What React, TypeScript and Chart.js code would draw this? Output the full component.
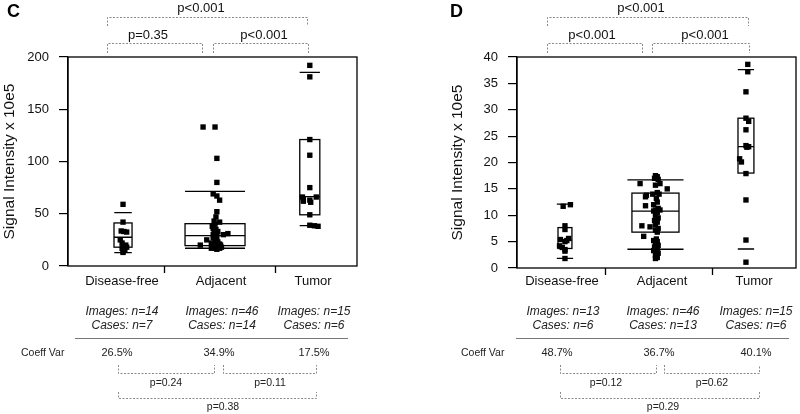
import React, { useEffect, useRef } from "react";
import { Chart, registerables } from "chart.js";
Chart.register(...registerables);

const FONT = "'Liberation Sans', Arial, Helvetica, sans-serif";

const categories = ["Disease-free", "Adjacent", "Tumor"];
const yTitle = "Signal Intensity x 10e5";

// ---------- Panel C ----------
const cDiseaseFree = [59, 42, 33.5, 33, 32.5, 25, 22, 20, 19, 18, 17, 16, 14, 13];
const cDiseaseFreeJitter = [0, 0, -0.02, 0.01, 0.04, -0.03, -0.01, 0.03, 0, 0.04, -0.01, 0.02, 0, 0];
const cAdjacent = [133, 133, 103, 80, 69, 67, 63, 52, 47, 43, 42, 40, 38, 36, 35, 34, 33, 32, 31, 31, 30, 30, 29, 28, 27, 26, 25, 24, 23, 22, 22, 21, 21, 20, 20, 20, 19, 19, 19, 18, 18, 18, 17, 17, 17, 16];
const cAdjacentJitter = [
  -0.13, 0, 0.02, 0.02, -0.02, 0.02, 0.05, 0.02, 0.01, -0.01,
  0.05, 0, -0.03, -0.02, 0.01, 0, 0.03, -0.01, 0.14, 0.02,
  0.09, -0.02, 0, 0.01, -0.02, 0.02, -0.09, 0, 0.03, -0.04,
  0.01, 0.05, -0.01, -0.16, 0.02, 0.06, 0, 0.04, -0.03, 0.07,
  -0.02, 0.03, 0, 0.05, -0.04, 0.02,
];
const cTumor = [192, 181, 121, 106, 75, 66, 66, 64, 63, 62, 61, 49, 39, 38.5, 38];
const cTumorJitter = [0, 0, 0, 0, 0, -0.08, 0.07, -0.07, 0, -0.07, 0.01, 0, 0, 0.05, 0.09];

const cQ1 = [18, 19.5, 49];
const cMedian = [27.5, 29, 66.4];
const cQ3 = [41.2, 40.5, 121];
const cWhiskerLow = [12.8, 17, 38.6];
const cWhiskerHigh = [51, 71.5, 185.3];

const cImages = [14, 46, 15];
const cCases = [7, 14, 6];
const cCoeffVar = ["26.5%", "34.9%", "17.5%"];
const cCoeffP = ["p=0.24", "p=0.11", "p=0.38"];
const cGroupP = ["p<0.001", "p=0.35", "p<0.001"];
const cYTicks = { max: 200, step: 50 };

// ---------- Panel D ----------
const dDiseaseFree = [12.0, 11.7, 8.0, 7.3, 5.6, 5.4, 5.2, 5.0, 4.2, 3.9, 3.5, 3.2, 1.8];
const dDiseaseFreeJitter = [0.06, -0.02, 0, 0, 0.04, -0.05, 0.02, 0, -0.06, -0.03, 0, 0, 0];
const dAdjacent = [17.5, 17.3, 17.0, 16.8, 16.0, 16.0, 15.7, 15.0, 14.3, 14.0, 14.0, 13.8, 13.5, 13.2, 12.5, 12.0, 11.8, 11.3, 11.0, 11.0, 10.8, 10.5, 10.0, 9.5, 9.0, 8.7, 8.2, 8.0, 7.8, 7.5, 7.2, 6.8, 6.0, 5.5, 5.2, 5.0, 4.7, 4.3, 4.0, 3.6, 3.3, 3.0, 2.8, 2.4, 2.0, 1.8];
const dAdjacentJitter = [
  0, 0.02, -0.01, 0.03, -0.17, 0.05, 0, 0.13, 0.02, -0.03,
  0.04, -0.1, -0.11, 0.01, 0.02, -0.02, -0.11, 0.03, 0, 0.05,
  -0.02, 0.02, 0, 0.03, -0.01, 0.02, 0, -0.15, -0.06, 0.03,
  0, 0.02, -0.13, 0.01, -0.02, 0.02, 0, 0.03, -0.01, 0.02,
  -0.02, 0.01, 0.03, 0, 0.02, 0,
];
const dTumor = [38.6, 37.2, 33.4, 28.4, 27.8, 26.2, 23.2, 23.0, 22.9, 20.7, 20.1, 17.9, 12.9, 5.3, 1.1];
const dTumorJitter = [0.02, 0.02, 0, 0, 0.03, 0, 0, 0.03, 0.01, -0.07, -0.05, 0, 0, 0, 0];

const dQ1 = [3.7, 6.8, 18.0];
const dMedian = [5.3, 10.8, 23.0];
const dQ3 = [7.66, 14.2, 28.4];
const dWhiskerLow = [1.84, 3.55, 3.6];
const dWhiskerHigh = [12.1, 16.7, 37.6];

const dImages = [13, 46, 15];
const dCases = [6, 13, 6];
const dCoeffVar = ["48.7%", "36.7%", "40.1%"];
const dCoeffP = ["p=0.12", "p=0.62", "p=0.29"];
const dGroupP = ["p<0.001", "p<0.001", "p<0.001"];
const dYTicks = { max: 40, step: 5 };

type Layout = {
  letter: string; letterX: number;
  padLeft: number; yWidth: number; padRight: number; bottom: number;
  xMin: number; xMax: number; groupX: number[]; boundaries: number[];
  boxHalf: number[]; stapleHalf: number[];
  catX: number[]; tableX: number[]; coeffX: number[]; coeffLabelX: number; tableLine: number[];
  top: { wide: number[]; wideLabel: number; left: number[]; leftLabel: number; right: number[]; rightLabel: number };
  bot: { left: number[]; leftLabel: number; right: number[]; rightLabel: number; wide: number[]; wideLabel: number };
};

const cLayout: Layout = {
  letter: "C", letterX: 7,
  padLeft: 0, yWidth: 68, padRight: 43, bottom: 266,
  xMin: 0.402, xMax: 3.543, groupX: [1, 2, 3.03], boundaries: [1.45, 2.65],
  boxHalf: [0.098, 0.326, 0.109], stapleHalf: [0.095, 0.326, 0.11],
  catX: [122, 221, 313], tableX: [122, 222, 314], coeffX: [117, 219, 314], coeffLabelX: 21, tableLine: [75, 348],
  top: { wide: [107, 307], wideLabel: 201, left: [107, 202], leftLabel: 148, right: [213, 308], rightLabel: 264 },
  bot: { left: [118, 214], leftLabel: 166, right: [223, 316], rightLabel: 270, wide: [118, 316], wideLabel: 223 },
};

const dLayout: Layout = {
  letter: "D", letterX: 50,
  padLeft: 48, yWidth: 69, padRight: 4, bottom: 268,
  xMin: 0.47, xMax: 3.553, groupX: [1, 2, 3], boundaries: [1.442, 2.625],
  boxHalf: [0.077, 0.26, 0.088], stapleHalf: [0.09, 0.31, 0.09],
  catX: [162, 262, 354], tableX: [163, 263, 356], coeffX: [157, 259, 356], coeffLabelX: 61, tableLine: [116, 389],
  top: { wide: [147, 348], wideLabel: 241, left: [147, 242], leftLabel: 192, right: [252, 349], rightLabel: 305 },
  bot: { left: [160, 256], leftLabel: 206, right: [264, 359], rightLabel: 312, wide: [160, 359], wideLabel: 263 },
};

type Stats = {
  values: number[][]; jitter: number[][];
  q1: number[]; med: number[]; q3: number[]; lo: number[]; hi: number[];
  images: number[]; cases: number[]; coeff: string[]; coeffP: string[]; groupP: string[];
  yMax: number; yStep: number;
};

const cStats: Stats = {
  values: [cDiseaseFree, cAdjacent, cTumor], jitter: [cDiseaseFreeJitter, cAdjacentJitter, cTumorJitter],
  q1: cQ1, med: cMedian, q3: cQ3, lo: cWhiskerLow, hi: cWhiskerHigh,
  images: cImages, cases: cCases, coeff: cCoeffVar, coeffP: cCoeffP, groupP: cGroupP,
  yMax: cYTicks.max, yStep: cYTicks.step,
};
const dStats: Stats = {
  values: [dDiseaseFree, dAdjacent, dTumor], jitter: [dDiseaseFreeJitter, dAdjacentJitter, dTumorJitter],
  q1: dQ1, med: dMedian, q3: dQ3, lo: dWhiskerLow, hi: dWhiskerHigh,
  images: dImages, cases: dCases, coeff: dCoeffVar, coeffP: dCoeffP, groupP: dGroupP,
  yMax: dYTicks.max, yStep: dYTicks.step,
};

function bracketDown(ctx: CanvasRenderingContext2D, x1: number, x2: number, yLine: number, yEnd: number) {
  ctx.beginPath();
  ctx.moveTo(x1 + 0.5, yEnd);
  ctx.lineTo(x1 + 0.5, yLine + 0.5);
  ctx.lineTo(x2 + 0.5, yLine + 0.5);
  ctx.lineTo(x2 + 0.5, yEnd);
  ctx.stroke();
}

function makePlugin(L: Layout, S: Stats) {
  return {
    id: "panelDecor" + L.letter,
    beforeDatasetsDraw(chart: any) {
      const ctx: CanvasRenderingContext2D = chart.ctx;
      const xs = chart.scales.x, ys = chart.scales.y;
      ctx.save();
      ctx.strokeStyle = "#000";
      ctx.lineWidth = 1.3;
      L.groupX.forEach((gx, i) => {
        const cx = xs.getPixelForValue(gx);
        const hw = xs.getPixelForValue(gx + L.boxHalf[i]) - cx;
        const sw = xs.getPixelForValue(gx + L.stapleHalf[i]) - cx;
        const y1 = ys.getPixelForValue(S.q1[i]);
        const y3 = ys.getPixelForValue(S.q3[i]);
        const ym = ys.getPixelForValue(S.med[i]);
        const yl = ys.getPixelForValue(S.lo[i]);
        const yh = ys.getPixelForValue(S.hi[i]);
        ctx.strokeRect(cx - hw, y3, 2 * hw, y1 - y3);
        ctx.beginPath();
        ctx.moveTo(cx - hw, ym); ctx.lineTo(cx + hw, ym);
        ctx.moveTo(cx - sw, yl); ctx.lineTo(cx + sw, yl);
        ctx.moveTo(cx - sw, yh); ctx.lineTo(cx + sw, yh);
        ctx.stroke();
      });
      ctx.restore();
    },
    afterDraw(chart: any) {
      const ctx: CanvasRenderingContext2D = chart.ctx;
      const xs = chart.scales.x;
      const a = chart.chartArea;
      ctx.save();
      // frame
      ctx.strokeStyle = "#000";
      ctx.lineWidth = 1.3;
      ctx.strokeRect(a.left, a.top, a.right - a.left, a.bottom - a.top);
      // boundary ticks
      ctx.beginPath();
      L.boundaries.forEach((b) => {
        const px = Math.round(xs.getPixelForValue(b)) + 0.5;
        ctx.moveTo(px, a.bottom);
        ctx.lineTo(px, a.bottom + 7);
      });
      ctx.stroke();

      // panel letter
      ctx.fillStyle = "#000";
      ctx.font = `bold 18px ${FONT}`;
      ctx.textAlign = "left";
      ctx.textBaseline = "alphabetic";
      ctx.fillText(L.letter, L.letterX, 17);

      // category labels
      ctx.fillStyle = "#111";
      ctx.font = `13px ${FONT}`;
      ctx.textAlign = "center";
      categories.forEach((c, i) => ctx.fillText(c, L.catX[i], 285));

      // top brackets
      ctx.strokeStyle = "#8a8a8a";
      ctx.lineWidth = 1;
      ctx.setLineDash([2, 1.5]);
      bracketDown(ctx, L.top.wide[0], L.top.wide[1], 17, 26);
      bracketDown(ctx, L.top.left[0], L.top.left[1], 43, 53);
      bracketDown(ctx, L.top.right[0], L.top.right[1], 43, 53);
      // bottom brackets (cups)
      bracketDown(ctx, L.bot.left[0], L.bot.left[1], 373, 365);
      bracketDown(ctx, L.bot.right[0], L.bot.right[1], 373, 365);
      bracketDown(ctx, L.bot.wide[0], L.bot.wide[1], 398, 392);
      ctx.setLineDash([]);

      ctx.fillStyle = "#111";
      ctx.font = `13px ${FONT}`;
      ctx.fillText(S.groupP[0], L.top.wideLabel, 12);
      ctx.fillText(S.groupP[1], L.top.leftLabel, 39);
      ctx.fillText(S.groupP[2], L.top.rightLabel, 39);

      // images / cases
      ctx.font = `italic 12px ${FONT}`;
      ctx.fillStyle = "#222";
      L.tableX.forEach((tx, i) => {
        ctx.fillText(`Images: n=${S.images[i]}`, tx, 315);
        ctx.fillText(`Cases: n=${S.cases[i]}`, tx, 329);
      });
      // rule
      ctx.strokeStyle = "#777";
      ctx.lineWidth = 1.2;
      ctx.beginPath();
      ctx.moveTo(L.tableLine[0], 338.5);
      ctx.lineTo(L.tableLine[1], 338.5);
      ctx.stroke();

      // coeff var
      ctx.font = `10.5px ${FONT}`;
      ctx.textAlign = "left";
      ctx.fillText("Coeff Var", L.coeffLabelX, 356);
      ctx.font = `11px ${FONT}`;
      ctx.textAlign = "center";
      L.coeffX.forEach((cx, i) => ctx.fillText(S.coeff[i], cx, 356));

      ctx.font = `10.5px ${FONT}`;
      ctx.fillText(S.coeffP[0], L.bot.leftLabel, 386);
      ctx.fillText(S.coeffP[1], L.bot.rightLabel, 386);
      ctx.fillText(S.coeffP[2], L.bot.wideLabel, 410);
      ctx.restore();
    },
  };
}

function makeConfig(L: Layout, S: Stats): any {
  return {
    type: "scatter",
    data: {
      datasets: S.values.map((vals, i) => ({
        label: categories[i],
        data: vals.map((v, j) => ({ x: L.groupX[i] + (S.jitter[i][j] ?? 0), y: v })),
        pointStyle: "rect",
        pointRadius: 3.8,
        pointHoverRadius: 3.8,
        backgroundColor: "#000",
        borderWidth: 0,
      })),
    },
    options: {
      animation: false,
      responsive: false,
      maintainAspectRatio: false,
      events: [],
      layout: { padding: { left: L.padLeft, right: L.padRight, top: 57, bottom: 414 - L.bottom } },
      plugins: { legend: { display: false }, tooltip: { enabled: false } },
      scales: {
        x: { type: "linear", min: L.xMin, max: L.xMax, display: false },
        y: {
          type: "linear",
          min: 0,
          max: S.yMax,
          ticks: { stepSize: S.yStep, padding: 10, color: "#111", font: { family: FONT, size: 13 } },
          grid: { drawOnChartArea: false, drawTicks: true, tickLength: 9, color: "#000", lineWidth: 1.2 },
          border: { display: true, color: "#000", width: 1.3 },
          title: { display: true, text: yTitle, color: "#111", padding: 0, font: { family: FONT, size: 15.5 } },
          afterFit: (s: any) => { s.width = L.yWidth; },
        },
      },
    },
    plugins: [makePlugin(L, S)],
  };
}

function Panel({ layout, stats, left }: { layout: Layout; stats: Stats; left: number }) {
  const ref = useRef<HTMLCanvasElement>(null);
  useEffect(() => {
    const chart = new Chart(ref.current as HTMLCanvasElement, makeConfig(layout, stats));
    return () => chart.destroy();
  }, []);
  return (
    <canvas
      ref={ref}
      width={400}
      height={414}
      style={{ position: "absolute", left, top: 0, width: 400, height: 414, display: "block" }}
    />
  );
}

export default function App() {
  return (
    <div style={{ position: "fixed", left: 0, top: 0, width: 800, height: 414, background: "#fff", overflow: "hidden" }}>
      <Panel layout={cLayout} stats={cStats} left={0} />
      <Panel layout={dLayout} stats={dStats} left={400} />
    </div>
  );
}
